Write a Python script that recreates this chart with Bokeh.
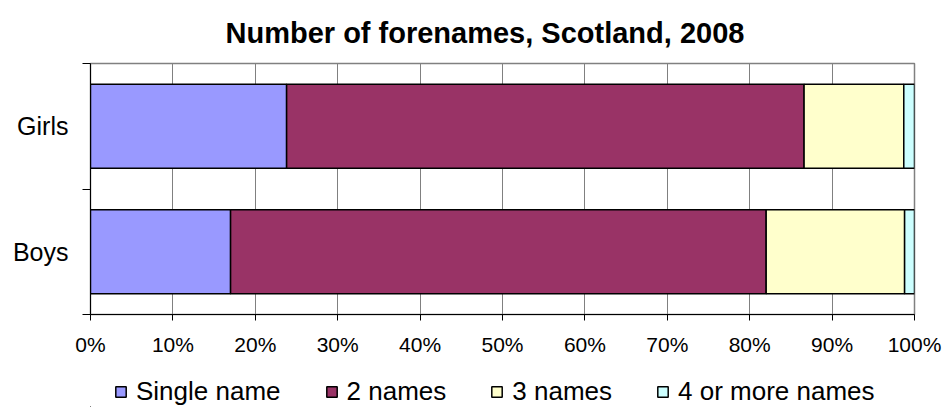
from bokeh.plotting import figure
from bokeh.layouts import column
from bokeh.models import (ColumnDataSource, FixedTicker, PrintfTickFormatter,
                          Legend, LegendItem, Range1d)
from bokeh.embed import file_html
from bokeh.resources import INLINE

# ---- data ----
categories = ["Boys", "Girls"]
series = ["Single name", "2 names", "3 names", "4 or more names"]
single_name = [17.0, 23.8]
two_names = [65.0, 62.8]
three_names = [16.8, 12.1]
four_plus = [1.2, 1.3]
x_ticks = [0, 10, 20, 30, 40, 50, 60, 70, 80, 90, 100]
colors = ["#9999FF", "#993366", "#FFFFCC", "#CCFFFF"]

FONT = "Liberation Sans"

y_pos = [i + 0.5 for i in range(len(categories))]
boundaries = list(range(len(categories) + 1))
keys = ["s1", "s2", "s3", "s4"]
source = ColumnDataSource(dict(y=y_pos, s1=single_name, s2=two_names,
                               s3=three_names, s4=four_plus))

p = figure(width=942, height=358, output_backend="svg", toolbar_location=None,
           x_range=Range1d(0, 100), y_range=Range1d(0, len(categories)),
           min_border_left=90, min_border_right=28, min_border_top=61,
           min_border_bottom=42)

renderers = p.hbar_stack(keys, y="y", height=0.67, color=colors,
                         line_color="black", line_width=1.5, source=source)

# title
p.title.text = "Number of forenames, Scotland, 2008"
p.title.text_font = FONT
p.title.text_font_size = "29px"
p.title.text_font_style = "bold"
p.title.text_color = "black"
p.title.align = "left"
p.title.offset = 135
p.title.standoff = 29

# x axis
xa = p.xaxis[0]
xa.ticker = FixedTicker(ticks=x_ticks)
xa.formatter = PrintfTickFormatter(format="%d%%")
xa.major_label_text_font = FONT
xa.major_label_text_font_size = "21px"
xa.major_label_text_color = "black"
xa.major_tick_out = 6
xa.major_tick_in = 0
xa.major_tick_line_color = "black"
xa.minor_tick_line_color = None
xa.axis_line_color = "black"
xa.major_label_standoff = 12

# y axis: labels at category centers, ticks at boundaries
ya = p.yaxis[0]
ya.ticker = FixedTicker(ticks=y_pos, minor_ticks=boundaries)
ya.major_label_overrides = {y: c for y, c in zip(y_pos, categories)}
ya.major_label_text_font = FONT
ya.major_label_text_font_size = "25px"
ya.major_label_text_color = "black"
ya.major_tick_out = 0
ya.major_tick_in = 0
ya.major_tick_line_color = None
ya.minor_tick_out = 8
ya.minor_tick_in = 0
ya.minor_tick_line_color = "black"
ya.axis_line_color = "black"
ya.major_label_standoff = 14

p.ygrid.visible = False
p.xgrid.grid_line_color = "#808080"
p.xgrid.grid_line_alpha = 1
p.outline_line_color = "#808080"
p.outline_line_width = 1.5

# ---- legend strip under the chart (its bars lie outside its view) ----
q = figure(width=942, height=49, output_backend="svg", toolbar_location=None,
           x_range=Range1d(200, 300), y_range=Range1d(10, 11),
           x_axis_type=None, y_axis_type=None, min_border=0)
q.outline_line_color = None
q_renderers = q.hbar_stack(keys, y="y", height=0.67, color=colors,
                           line_color="black", line_width=1.5, source=source)

legend = Legend(items=[LegendItem(label=s, renderers=[r]) for s, r in zip(series, q_renderers)],
                orientation="horizontal", location=(24, 0), padding=0, margin=0,
                border_line_color=None, background_fill_alpha=0,
                glyph_width=13, glyph_height=13, label_standoff=9, spacing=44,
                label_text_font=FONT, label_text_font_size="26px",
                label_text_color="black")
q.add_layout(legend)

layout = column(p, q, spacing=0)
open("out.html", "w").write(file_html(layout, INLINE))
